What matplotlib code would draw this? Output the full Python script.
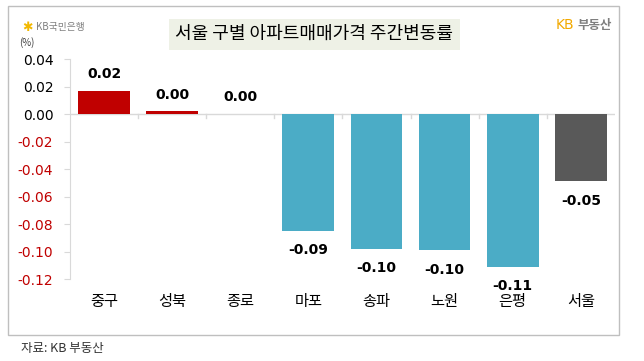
import matplotlib.pyplot as plt
from matplotlib.patches import Rectangle

plt.rcParams['font.family'] = ['Noto Sans CJK KR', 'DejaVu Sans']

districts = ["중구", "성북", "종로", "마포", "송파", "노원", "은평", "서울"]
changes = [0.017, 0.002, 0.0, -0.085, -0.098, -0.099, -0.111, -0.049]
value_labels = ["0.02", "0.00", "0.00", "-0.09", "-0.10", "-0.10", "-0.11", "-0.05"]
yticks = [0.04, 0.02, 0.00, -0.02, -0.04, -0.06, -0.08, -0.10, -0.12]

RED = "#c00000"
TEAL = "#4bacc6"
GRAY = "#595959"

colors = []
for name, v in zip(districts, changes):
    if name == "서울":
        colors.append(GRAY)
    elif v >= 0:
        colors.append(RED)
    else:
        colors.append(TEAL)

fig = plt.figure(figsize=(6.44, 3.61), dpi=100)
ax = fig.add_axes([0.1087, 0.2271, 0.846, 0.6094])

x = range(len(districts))
ax.bar(x, changes, width=0.76, color=colors, zorder=2)

for i, (v, lab) in enumerate(zip(changes, value_labels)):
    off = 12 if v >= 0 else -14
    ax.annotate(lab, (i, v), xytext=(0, off), textcoords="offset points",
                ha="center", va="center", fontsize=10, fontweight="bold",
                family="DejaVu Sans", color="black", zorder=4)

ax.set_ylim(-0.12, 0.04)
ax.set_xlim(-0.5, len(districts) - 0.5)
ax.set_yticks(yticks)
ax.set_yticklabels([f"{t:.2f}" for t in yticks], fontsize=10, family="DejaVu Sans")
for lab, t in zip(ax.get_yticklabels(), yticks):
    lab.set_color(RED if t < 0 else "black")

ax.set_xticks([])
ax.axhline(0, color="#d9d9d9", lw=1, zorder=1)
# category separators below the zero line
for b in range(1, len(districts)):
    ax.plot([b - 0.5, b - 0.5], [0, -0.003], color="#d9d9d9", lw=1, zorder=1)

for i, name in enumerate(districts):
    ax.text(i, -0.1367, name, ha="center", va="center", fontsize=11, clip_on=False)

for s in ["top", "right", "bottom"]:
    ax.spines[s].set_visible(False)
ax.spines["left"].set_color("#d9d9d9")
ax.tick_params(axis="y", length=4, color="#d9d9d9", pad=8)

ax.text(-0.08, 1.06, "(%)", transform=ax.transAxes, ha="center", fontsize=7, color="#404040")

# outer frame
fig.patches.append(Rectangle((8 / 644, 1 - 335 / 361), 611 / 644, 329 / 361,
                             transform=fig.transFigure, fill=False, ec="#bfbfbf", lw=1))

# title box
fig.text(0.488, 0.905, "서울 구별 아파트매매가격 주간변동률", ha="center", va="center", fontsize=13,
         bbox=dict(boxstyle="square,pad=0.35", fc="#eef1e6", ec="none"))

fig.text(0.035, 0.925, "✱", color="#f2b800", fontsize=9, ha="left", va="center", family="DejaVu Sans")
fig.text(0.056, 0.925, "KB국민은행", color="#7f7f7f", fontsize=7, ha="left", va="center")
fig.text(0.862, 0.93, "KB", color="#f2a900", fontsize=10, ha="left", va="center", family="DejaVu Sans")
fig.text(0.897, 0.93, "부동산", color="#7f7f7f", fontsize=9, fontweight="bold", ha="left", va="center")

fig.text(0.033, 0.035, "자료: KB 부동산", fontsize=9, color="#333333", ha="left", va="center")

fig.savefig("out.png", dpi=100, facecolor="white")
